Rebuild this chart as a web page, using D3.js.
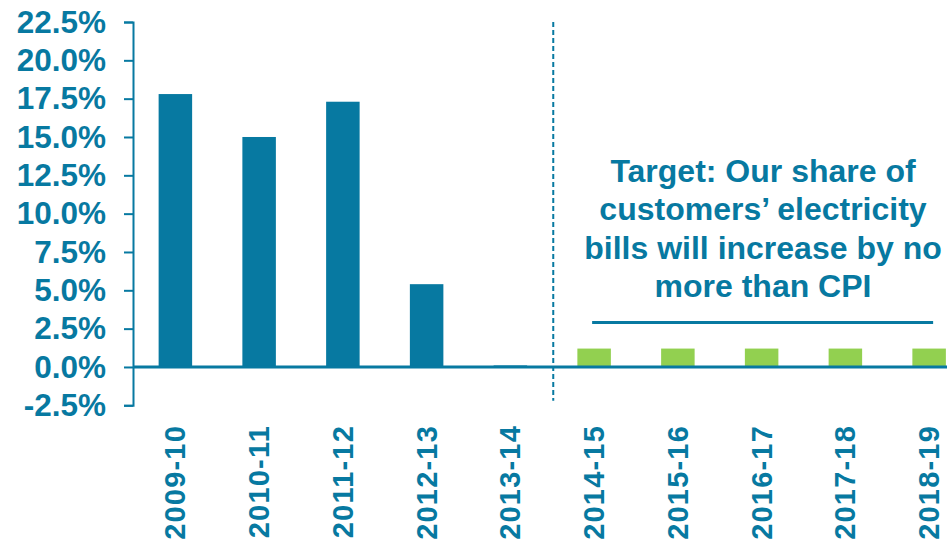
<!DOCTYPE html>
<html>
<head>
<meta charset="utf-8">
<script src="https://cdn.jsdelivr.net/npm/d3@7"></script>
<style>
  html, body { margin: 0; padding: 0; background: #ffffff; }
  svg { display: block; }
  text { font-family: "Liberation Sans", Arial, sans-serif; font-weight: bold; }
</style>
</head>
<body>
<svg id="chart" width="947" height="546"></svg>
<script>
// Financial years on the x axis
const years = ["2009-10", "2010-11", "2011-12", "2012-13", "2013-14",
               "2014-15", "2015-16", "2016-17", "2017-18", "2018-19"];
// Annual change in our share of customers' bills (%)
const actual = [17.8, 15.0, 17.3, 5.4, 0.1, null, null, null, null, null];
const target = [null, null, null, null, null, 1.2, 1.2, 1.2, 1.2, 1.2];
// CPI reference level drawn across the target years (%)
const cpiLevel = 2.9;
const yTicks = [-2.5, 0, 2.5, 5, 7.5, 10, 12.5, 15, 17.5, 20, 22.5];
const noteLines = ["Target: Our share of", "customers\u2019 electricity",
                   "bills will increase by no", "more than CPI"];

const teal = "#0779a1";
const green = "#92d050";

const svg = d3.select("#chart");

const x = d3.scaleBand()
  .domain(years)
  .range([133.5, 971])
  .paddingInner(0.6)
  .paddingOuter(0.3);

const y = d3.scaleLinear()
  .domain([-2.5, 22.5])
  .range([405.3, 22]);

// Y axis, plain hyphen for negatives
const yAxis = d3.axisLeft(y)
  .tickValues(yTicks)
  .tickFormat(d => d.toFixed(1) + "%")
  .tickSize(9)
  .tickPadding(18);

const gy = svg.append("g")
  .attr("transform", "translate(133,0)")
  .call(yAxis);
gy.select(".domain").attr("stroke", teal).attr("stroke-width", 2);
gy.selectAll(".tick line").attr("stroke", teal).attr("stroke-width", 2);
gy.selectAll(".tick text")
  .attr("fill", teal)
  .style("font-size", "31.5px")
  .style("font-family", "'Liberation Sans', Arial, sans-serif")
  .style("font-weight", "bold");

// Historical bars
svg.append("g").selectAll("rect")
  .data(years.map((d, i) => ({ year: d, v: actual[i] })).filter(d => d.v !== null))
  .join("rect")
  .attr("x", d => x(d.year))
  .attr("width", x.bandwidth())
  .attr("y", d => y(Math.max(0, d.v)))
  .attr("height", d => Math.abs(y(d.v) - y(0)))
  .attr("fill", teal);

// Target bars
svg.append("g").selectAll("rect")
  .data(years.map((d, i) => ({ year: d, v: target[i] })).filter(d => d.v !== null))
  .join("rect")
  .attr("x", d => x(d.year))
  .attr("width", x.bandwidth())
  .attr("y", d => y(Math.max(0, d.v)))
  .attr("height", d => Math.abs(y(d.v) - y(0)))
  .attr("fill", green);

// Zero baseline
svg.append("line")
  .attr("x1", 133).attr("x2", 947)
  .attr("y1", y(0)).attr("y2", y(0))
  .attr("stroke", teal).attr("stroke-width", 3);

// Divider between actuals and targets
const divX = x("2013-14") + x.bandwidth() + x.step() * x.paddingInner() / 2 + 1;
svg.append("line")
  .attr("x1", divX).attr("x2", divX)
  .attr("y1", y(22.5)).attr("y2", y(-2.2))
  .attr("stroke", teal).attr("stroke-width", 2)
  .attr("stroke-dasharray", "5,3");

// CPI reference line
svg.append("line")
  .attr("x1", x("2014-15") + x.bandwidth() / 2 - 2)
  .attr("x2", x("2018-19") + x.bandwidth() / 2 + 4)
  .attr("y1", y(cpiLevel)).attr("y2", y(cpiLevel))
  .attr("stroke", teal).attr("stroke-width", 3);

// Annotation
const note = svg.append("text")
  .attr("x", 763)
  .attr("y", 182)
  .attr("text-anchor", "middle")
  .attr("fill", teal)
  .style("font-size", "32px");
note.selectAll("tspan")
  .data(noteLines)
  .join("tspan")
  .attr("x", 763)
  .attr("dy", (d, i) => i === 0 ? 0 : 38.3)
  .text(d => d);

// X category labels, rotated
svg.append("g").selectAll("text")
  .data(years)
  .join("text")
  .attr("transform", d => `translate(${x(d) + x.bandwidth() / 2 + 10},425) rotate(-90)`)
  .attr("text-anchor", "end")
  .attr("fill", teal)
  .style("font-size", "29px")
  .style("letter-spacing", "1.2px")
  .text(d => d);
</script>
</body>
</html>
